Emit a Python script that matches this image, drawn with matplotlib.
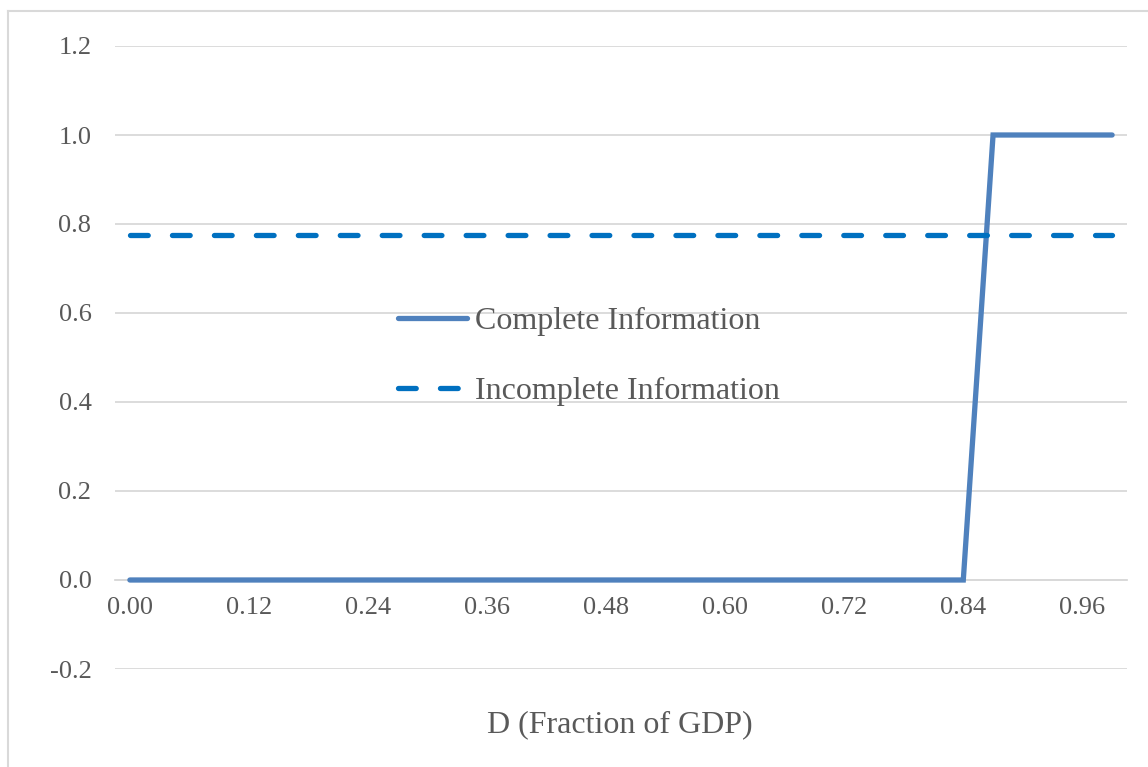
import matplotlib
matplotlib.use("Agg")
import matplotlib.pyplot as plt
from matplotlib.lines import Line2D

# Data
categories = ["0.00", "0.03", "0.06", "0.09", "0.12", "0.15", "0.18", "0.21", "0.24", "0.27",
              "0.30", "0.33", "0.36", "0.39", "0.42", "0.45", "0.48", "0.51", "0.54", "0.57",
              "0.60", "0.63", "0.66", "0.69", "0.72", "0.75", "0.78", "0.81", "0.84", "0.87",
              "0.90", "0.93", "0.96", "0.99"]
complete_info = [0]*29 + [1]*5
incomplete_info = [0.775]*34
y_ticks = [-0.2, 0.0, 0.2, 0.4, 0.6, 0.8, 1.0, 1.2]
x_title = "D (Fraction of GDP)"

plt.rcParams['font.family'] = ['Liberation Serif', 'DejaVu Serif']

W, H = 1148, 767
fig = plt.figure(figsize=(W/100, H/100), dpi=100)
ax = fig.add_axes([115/W, 1-669/H, (1127-115)/W, (669-46)/H])

x = list(range(len(categories)))
ax.plot(x, complete_info, color='#4f81bd', lw=3.8, solid_capstyle='round',
        solid_joinstyle='miter', label='Complete Information', zorder=3)
ax.plot(x, incomplete_info, color='#0070c0', lw=3.8, dashes=(3.36, 4.59),
        dash_capstyle='round', label='Incomplete Information', zorder=3)

ax.set_xlim(-0.5, len(categories)-0.5)
ax.set_ylim(-0.2, 1.2)
ax.set_yticks(y_ticks)
ax.set_yticklabels([f"{v:.1f}" for v in y_ticks])
ax.set_xticks(x[::4])
ax.set_xticklabels(categories[::4])
ax.grid(axis='y', color='#d9d9d9', lw=1.3)
ax.set_axisbelow(True)
for s in ['top', 'right', 'left']:
    ax.spines[s].set_visible(False)
ax.spines['bottom'].set_position(('data', 0))
ax.spines['bottom'].set_color('#d9d9d9')
ax.spines['bottom'].set_linewidth(1.3)
ax.tick_params(axis='both', length=0, labelsize=19, labelcolor='#595959')
ax.tick_params(axis='x', pad=12)
ax.tick_params(axis='y', pad=17)

handles = [Line2D([], [], color='#4f81bd', lw=3.8, solid_capstyle='round'),
           Line2D([], [], color='#0070c0', lw=3.8, dashes=(3.36, 4.59), dash_capstyle='round')]
leg = ax.legend(handles, ['Complete Information', 'Incomplete Information'],
                loc='upper left', bbox_to_anchor=((398-115)/(1127-115), (669-307)/(669-46)),
                frameon=False, fontsize=23, handlelength=2.15, handletextpad=0.25,
                labelspacing=1.26, borderaxespad=0, borderpad=0)
for t in leg.get_texts():
    t.set_color('#595959')

fig.text(620/W, 1-725/H, x_title, ha='center', va='center', fontsize=23, color='#595959')

# chart frame
fig.add_artist(Line2D([8/W, 8/W], [0, 1-11/H], color='#d9d9d9', lw=1.5, transform=fig.transFigure))
fig.add_artist(Line2D([8/W, 1], [1-11/H, 1-11/H], color='#d9d9d9', lw=1.5, transform=fig.transFigure))

fig.savefig("out.png", dpi=100, facecolor='white')
